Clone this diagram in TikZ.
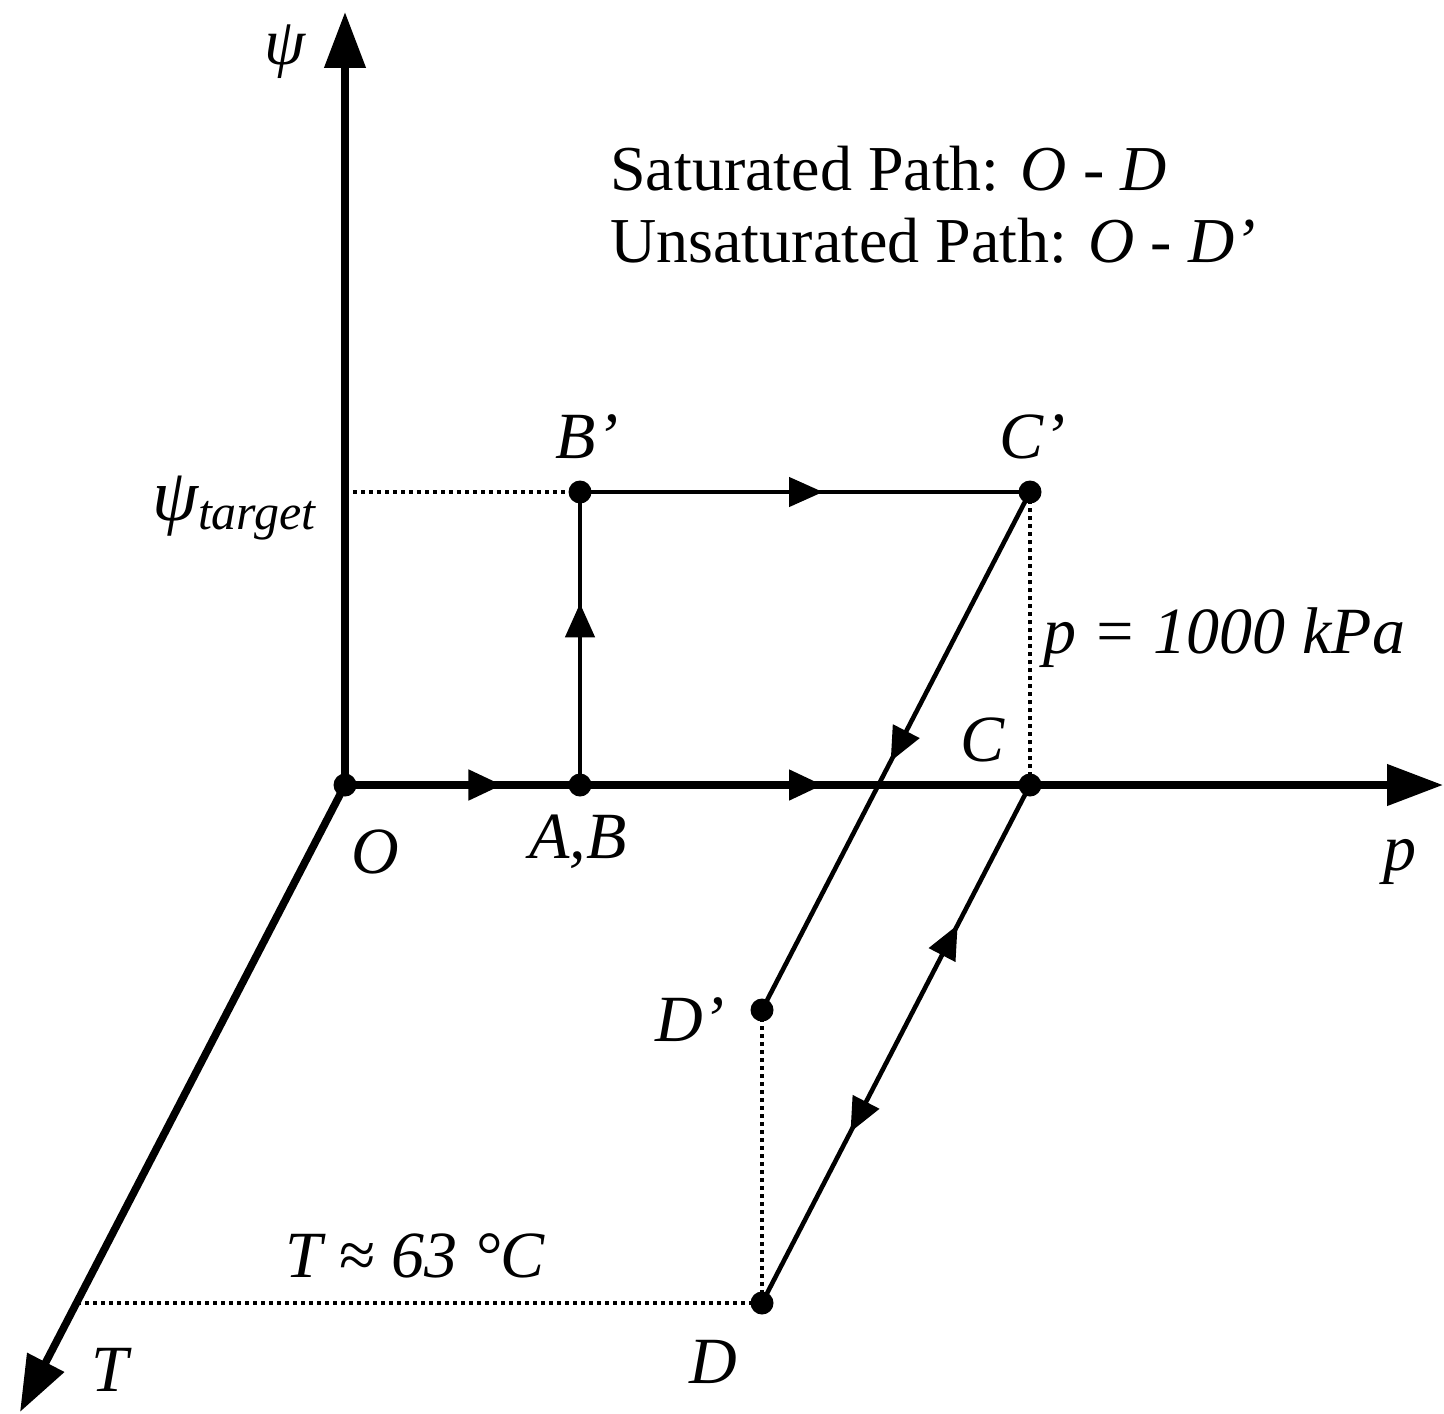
\documentclass[tikz,border=0pt]{standalone}
\usepackage{fontspec}
\setmainfont{Liberation Serif}
\usetikzlibrary{arrows.meta,decorations.markings}
\begin{document}
\begin{tikzpicture}[x=0.5pt,y=-0.5pt,
  axisline/.style={line width=3.8pt},
  pathline/.style={line width=2.3pt},
  dashline/.style={line width=1.9pt,dash pattern=on 2.2pt off 1.8pt},
  bigtip/.style={-{Triangle[length=28pt,width=20pt]}},
  midarrow/.style={postaction={decorate,decoration={markings,
      mark=at position #1 with {\arrow{Triangle[length=17pt,width=14.5pt]}}}}},
  twoarrows/.style 2 args={postaction={decorate,decoration={markings,
      mark=at position #1 with {\arrowreversed{Triangle[length=17pt,width=14.5pt]}},
      mark=at position #2 with {\arrow{Triangle[length=17pt,width=14.5pt]}}}}},
  lbl/.style={font=\fontsize{33}{36}\selectfont\itshape,inner sep=0pt},
  hdr/.style={font=\fontsize{32}{36}\selectfont,inner sep=0pt,anchor=base west},
  dot/.style={circle,fill=black,inner sep=0pt,minimum size=11.5pt}]
\useasboundingbox (0,0) rectangle (1444,1413);
% points
\coordinate (O) at (345,785);
\coordinate (A) at (580,785);
\coordinate (Bp) at (580,492);
\coordinate (Cp) at (1030,492);
\coordinate (C) at (1030,785);
\coordinate (Dp) at (762,1010);
\coordinate (D) at (762,1303);
\coordinate (psiend) at (345,12);
\coordinate (pend) at (1443,785);
\coordinate (Tend) at (20,1412);
\coordinate (Tmark) at (77,1303);
\coordinate (psimark) at (345,492);
% dashed guides
\draw[dashline] (psimark) -- (Bp);
\draw[dashline] (Cp) -- (C);
\draw[dashline] (Dp) -- (D);
\draw[dashline] (Tmark) -- (D);
% axes
\draw[axisline,bigtip] (O) -- (psiend);
\draw[axisline,bigtip] (O) -- (Tend);
\draw[axisline,midarrow=0.67] (O) -- (A);
\draw[axisline,midarrow=0.54] (A) -- (C);
\draw[axisline,bigtip] (C) -- (pend);
% paths
\draw[pathline,midarrow=0.62] (A) -- (Bp);
\draw[pathline,midarrow=0.54] (Bp) -- (Cp);
\draw[pathline,midarrow=0.52] (Cp) -- (Dp);
\draw[pathline,twoarrows={0.27}{0.67}] (C) -- (D);
% dots
\foreach \p in {O,A,Bp,Cp,C,Dp,D} \node[dot] (dot\p) at (\p) {};
% labels
\node[lbl] (lpsi) at (285,52) {ψ};
\node[lbl,anchor=east] (lpsit) at (316,508) {{\fontsize{37}{40}\selectfont ψ}\raisebox{-0.3ex}{\fontsize{25}{28}\selectfont target}};
\node[lbl] (lBp) at (587,437) {B’};
\node[lbl] (lCp) at (1032,437) {C’};
\node[lbl] (lC) at (982,740) {C};
\node[lbl] (lAB) at (578,842) {A,B};
\node[lbl] (lO) at (375,852) {O};
\node[lbl] (lp) at (1400,862) {p};
\node[lbl] (lT) at (110,1370) {T};
\node[lbl] (lDp) at (690,1020) {D’};
\node[lbl] (lD) at (713,1362) {D};
\node[lbl] (lTval) at (415,1256) {T ≈ 63 °C};
\node[lbl,anchor=west] (lpval) at (1043,638) {p = 1000 kPa};
\node[hdr] (h1) at (610,190) {Saturated Path: \textit{O} - \textit{D}};
\node[hdr] (h2) at (610,262) {Unsaturated Path: \textit{O} - \textit{D’}};
\end{tikzpicture}
\end{document}
